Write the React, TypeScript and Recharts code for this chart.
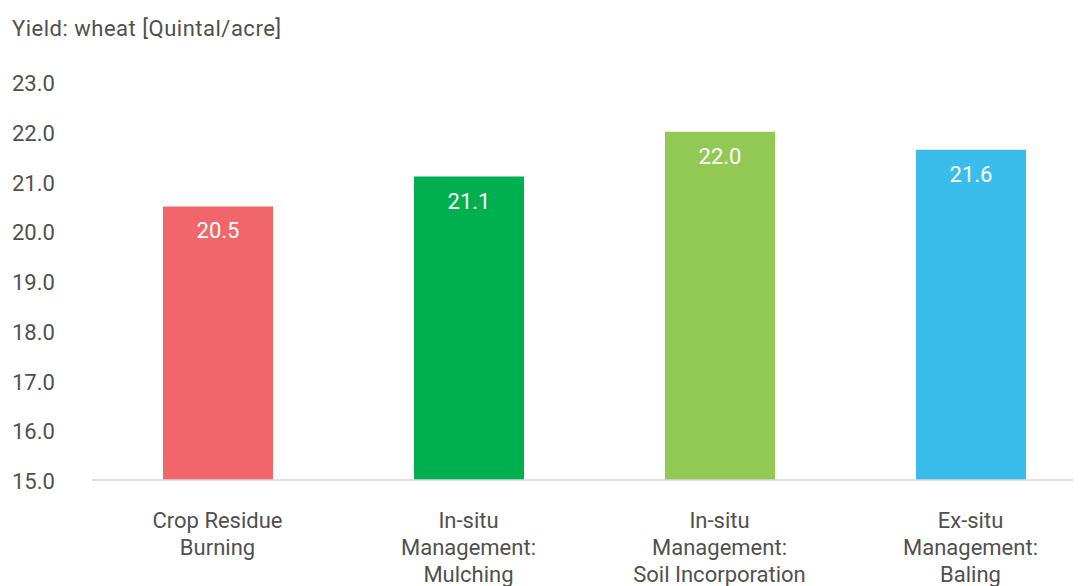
import React from "react";
import { BarChart, Bar, XAxis, YAxis, Cell, LabelList } from "recharts";

const categories = [
  ["Crop Residue", "Burning"],
  ["In-situ", "Management:", "Mulching"],
  ["In-situ", "Management:", "Soil Incorporation"],
  ["Ex-situ", "Management:", "Baling"],
];
const yields = [20.5, 21.1, 22.0, 21.64];
const colors = ["#F0666A", "#00B050", "#92C955", "#3BBDEC"];
const yTicks = [15, 16, 17, 18, 19, 20, 21, 22, 23];

const FONT = "Roboto, 'Noto Sans', sans-serif";
const TEXT = "#505050";

const data = categories.map((lines, i) => ({
  key: String(i),
  lines,
  value: yields[i],
}));

const YTick = (props: any) => {
  const { y, payload } = props;
  return (
    <text x={4} y={y} dy={9} textAnchor="start" fontSize={22} fill={TEXT} fontFamily={FONT}>
      {Number(payload.value).toFixed(1)}
    </text>
  );
};

const XTick = (props: any) => {
  const { x, y, payload } = props;
  const lines = categories[Number(payload.value)] || [];
  return (
    <g>
      {lines.map((l, i) => (
        <text
          key={i}
          x={x}
          y={y + 40 + i * 27}
          textAnchor="middle"
          fontSize={22}
          fill={TEXT}
          fontFamily={FONT}
        >
          {l}
        </text>
      ))}
    </g>
  );
};

const BarValue = (props: any) => {
  const { x, y, width, value } = props;
  return (
    <text
      x={x + width / 2}
      y={y + 32}
      textAnchor="middle"
      fontSize={22}
      fill="#ffffff"
      fontFamily={FONT}
    >
      {Number(value).toFixed(1)}
    </text>
  );
};

export default function App() {
  return (
    <div style={{ position: "relative", width: 1073, height: 578, overflow: "hidden", fontFamily: FONT }}>
      <div
        style={{
          position: "absolute",
          left: 4,
          top: 8,
          fontSize: 22,
          letterSpacing: 0.5,
          color: TEXT,
          whiteSpace: "nowrap",
        }}
      >
        Yield: wheat [Quintal/acre]
      </div>
      <BarChart
        width={1100}
        height={578}
        data={data}
        margin={{ top: 74, right: 12, bottom: 0, left: 0 }}
      >
        <XAxis
          dataKey="key"
          tick={<XTick />}
          tickLine={false}
          axisLine={{ stroke: "#D9D9D9", strokeWidth: 1.5 }}
          height={106}
          interval={0}
        />
        <YAxis
          domain={[15, 23]}
          ticks={yTicks}
          tick={<YTick />}
          axisLine={false}
          tickLine={false}
          width={84}
        />
        <Bar dataKey="value" barSize={110} isAnimationActive={false}>
          {data.map((d, i) => (
            <Cell key={d.key} fill={colors[i]} />
          ))}
          <LabelList dataKey="value" content={<BarValue />} />
        </Bar>
      </BarChart>
    </div>
  );
}
